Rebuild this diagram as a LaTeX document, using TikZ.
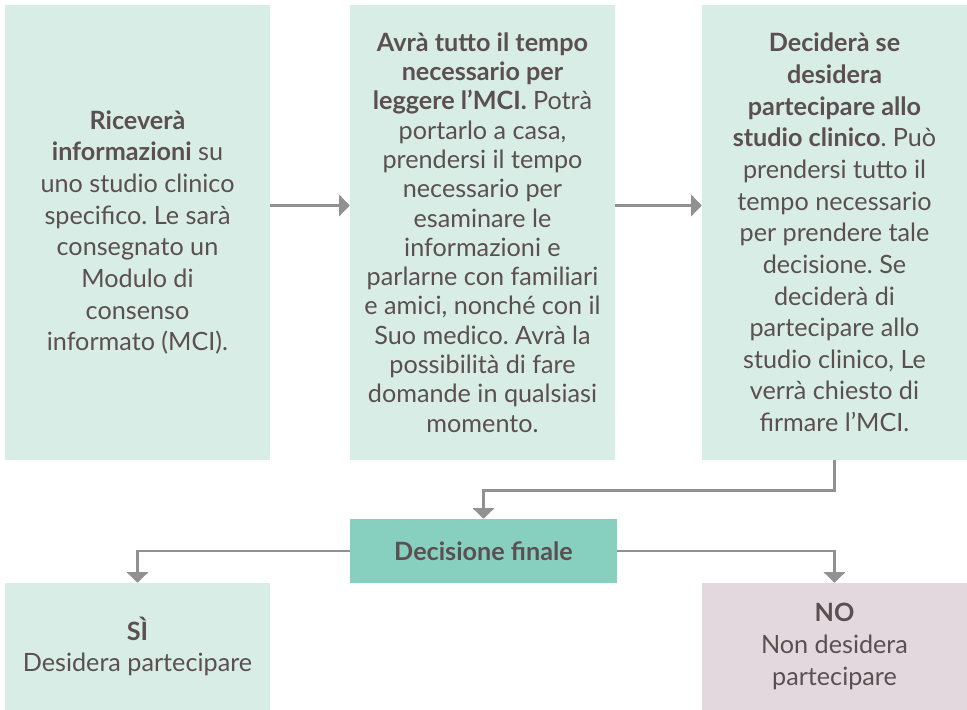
\documentclass[tikz,border=0pt]{standalone}
\usepackage{fontspec}
\setmainfont{Lato}
\usetikzlibrary{arrows.meta}
\definecolor{mintlight}{HTML}{D7EDE5}
\definecolor{mintdark}{HTML}{87CFBF}
\definecolor{mauvelight}{HTML}{E3D8DE}
\definecolor{textgray}{HTML}{5B4F51}
\definecolor{arrowgray}{HTML}{929090}
\frenchspacing
\begin{document}
\begin{tikzpicture}[x=0.03cm, y=-0.03cm,
        step box/.style={fill=mintlight, text=textgray, align=center,
            minimum width=7.95cm, minimum height=13.65cm, inner sep=0pt,
            font=\fontsize{21.5}{27}\selectfont},
        end box/.style={step box, minimum height=3.81cm},
        decision/.style={fill=mintdark, text=textgray, minimum width=8.01cm,
            minimum height=1.92cm, font=\fontsize{21.5}{27}\selectfont\bfseries},
        arr/.style={draw=arrowgray, line width=2.5pt,
            -{Triangle[length=9pt, width=18pt]}}]
        \useasboundingbox (0,0) rectangle (967,710);

        % the three steps
        \node[step box] (info) at (137.5,232.5)
            {\textbf{Riceverà}\\\textbf{informazioni} su\\uno studio clinico\\specifico. Le sarà\\consegnato un\\Modulo di\\consenso\\informato (MCI).};
        \node[step box, font=\fontsize{21.5}{25}\selectfont] (read) at (482.5,232.5)
            {\textbf{Avrà tutto il tempo}\\\textbf{necessario per}\\\textbf{leggere l’MCI.} Potrà\\portarlo a casa,\\prendersi il tempo\\necessario per\\esaminare le\\informazioni e\\parlarne con familiari\\e amici, nonché con il\\Suo medico. Avrà la\\possibilità di fare\\domande in qualsiasi\\momento.};
        \node[step box] (decide) at (834.5,232.5)
            {\textbf{Deciderà se}\\\textbf{desidera}\\\textbf{partecipare allo}\\\textbf{studio clinico}. Può\\prendersi tutto il\\tempo necessario\\per prendere tale\\decisione. Se\\deciderà di\\partecipare allo\\studio clinico, Le\\verrà chiesto di\\firmare l’MCI.};

        \node[decision] (final) at (483.5,551) {Decisione finale};

        \node[end box] (yes) at (137.5,646.5) {\textbf{SÌ}\\Desidera partecipare};
        \node[end box, fill=mauvelight] (no) at (834.5,646.5) {\textbf{NO}\\Non desidera\\partecipare};

        \draw[arr] ([yshift=0.81cm]info.east) -- ([yshift=0.81cm]read.west);
        \draw[arr] ([yshift=0.81cm]read.east) -- ([yshift=0.81cm]decide.west);
        \draw[arr] (decide.south) -- ++(0,30) -| (final.north);
        \draw[arr] (final.west) -| (yes.north);
        \draw[arr] (final.east) -| (no.north);
    \end{tikzpicture}
\end{document}
